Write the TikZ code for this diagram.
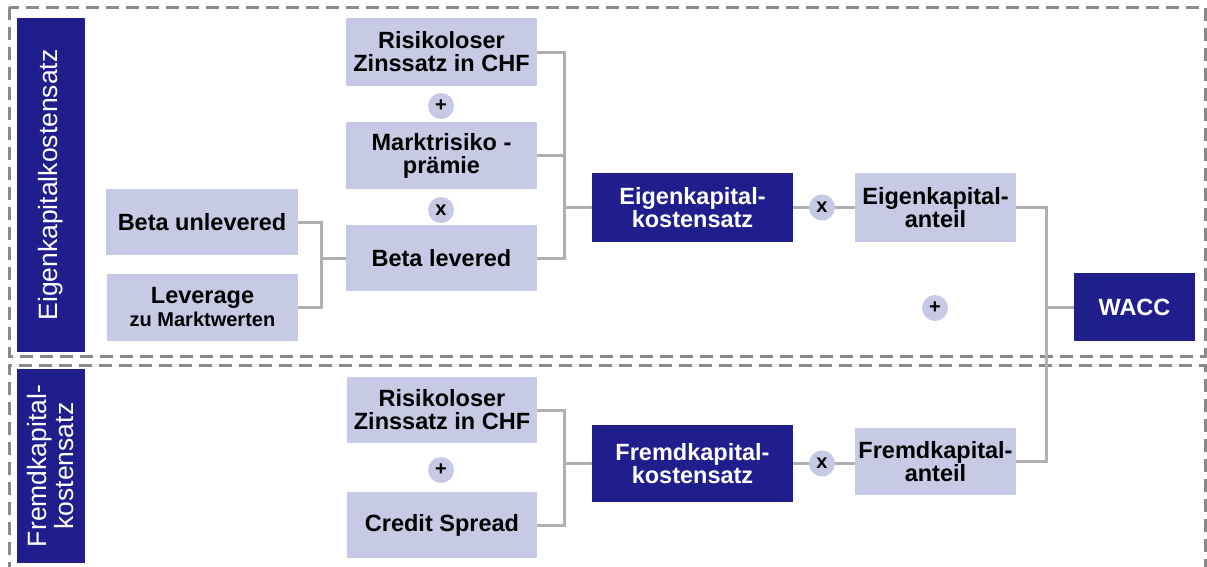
\documentclass[tikz,border=0pt]{standalone}
\usepackage{fontspec}
\setmainfont{Liberation Sans}
\definecolor{waccdark}{HTML}{201E8C}
\definecolor{wacclight}{HTML}{C6CAE4}
\definecolor{waccline}{HTML}{B0B0B0}
\definecolor{waccdash}{HTML}{8A8A8A}
\begin{document}
\begin{tikzpicture}[x=1pt, y=-1pt,
    lightbox/.style={fill=wacclight, inner sep=0pt, align=center, font=\fontsize{23.5}{23}\selectfont\bfseries},
    darkbox/.style={fill=waccdark, text=white, inner sep=0pt, align=center, font=\fontsize{23.5}{23}\selectfont\bfseries},
    sidebar/.style={fill=waccdark, text=white, inner sep=0pt, align=center, rotate=90, font=\fontsize{26.5}{27}\selectfont},
    op/.style={circle, fill=wacclight, minimum size=26pt, inner sep=0pt, font=\fontsize{20}{20}\selectfont\bfseries},
    link/.style={draw=waccline, line width=3pt},
    frame/.style={draw=waccdash, line width=3pt, dash pattern=on 13pt off 7pt}]
    \fill[white] (0,0) rectangle (1207,566);
    \useasboundingbox (0,0) rectangle (1207,566);

    % Frames
    \draw[frame] (9,7) rectangle (1205,356);
    \draw[frame] (9,575) -- (9,365) -- (1205,365) -- (1205,575);

    % Eigenkapitalkostensatz
    \node[sidebar, minimum width=334pt, minimum height=68pt] (eklabel) at (51,185) {Eigenkapitalkostensatz};
    \node[lightbox, minimum width=191pt, minimum height=68pt] (rf1) at (441.5,52) {Risikoloser\\Zinssatz in CHF};
    \node[op] (plus1) at (441,106) {+};
    \node[lightbox, minimum width=191pt, minimum height=67pt] (mrp) at (441.5,155.5) {Marktrisiko -\\prämie};
    \node[op] (times1) at (441,210) {x};
    \node[lightbox, minimum width=191pt, minimum height=66pt] (betal) at (441.5,258) {Beta levered};
    \node[lightbox, minimum width=192pt, minimum height=66pt] (betau) at (202,222) {Beta unlevered};
    \node[lightbox, minimum width=191pt, minimum height=67pt] (lev) at (202.5,307.5) {Leverage\\{\fontsize{20}{20}\selectfont zu Marktwerten}};
    \node[darkbox, minimum width=201pt, minimum height=69pt] (ekk) at (692.5,207.5) {Eigenkapital-\\kostensatz};
    \node[op] (times2) at (822,207.5) {x};
    \node[lightbox, minimum width=161pt, minimum height=69pt] (eka) at (935.5,207.5) {Eigenkapital-\\anteil};

    % WACC
    \node[darkbox, minimum width=121pt, minimum height=68pt] (wacc) at (1134.5,307) {WACC};
    \node[op] (plus3) at (935,308) {+};

    % Fremdkapitalkostensatz
    \node[sidebar, minimum width=194pt, minimum height=68pt] (fklabel) at (51,466) {Fremdkapital-\\kostensatz};
    \node[lightbox, minimum width=190pt, minimum height=66pt] (rf2) at (442,410) {Risikoloser\\Zinssatz in CHF};
    \node[op] (plus2) at (441,470) {+};
    \node[lightbox, minimum width=190pt, minimum height=66pt] (cs) at (442,525) {Credit Spread};
    \node[darkbox, minimum width=201pt, minimum height=77pt] (fkk) at (692.5,463.5) {Fremdkapital-\\kostensatz};
    \node[op] (times3) at (822,463.5) {x};
    \node[lightbox, minimum width=161pt, minimum height=67pt] (fka) at (935.5,461.5) {Fremdkapital-\\anteil};

    % Connectors
    \coordinate (jbeta) at (321,258);
    \coordinate (jek) at (564,207.5);
    \coordinate (jfk) at (564,463.5);
    \coordinate (jwacc) at (1046,307);
    \draw[link] (betau.east) -| (jbeta) |- (lev.east);
    \draw[link] (jbeta) -- (betal.west);
    \draw[link] (rf1.east) -| (jek) |- (betal.east);
    \draw[link] (mrp.east) -| (jek) -- (ekk.west);
    \draw[link] (ekk.east) -- (times2.west);
    \draw[link] (times2.east) -- (eka.west);
    \draw[link] (rf2.east) -| (jfk) |- (cs.east);
    \draw[link] (jfk) -- (fkk.west);
    \draw[link] (fkk.east) -- (times3.west);
    \draw[link] (times3.east) -- (times3.east -| fka.west);
    \draw[link] (eka.east) -| (jwacc) |- (fka.east);
    \draw[link] (jwacc) -- (wacc.west);
\end{tikzpicture}
\end{document}
